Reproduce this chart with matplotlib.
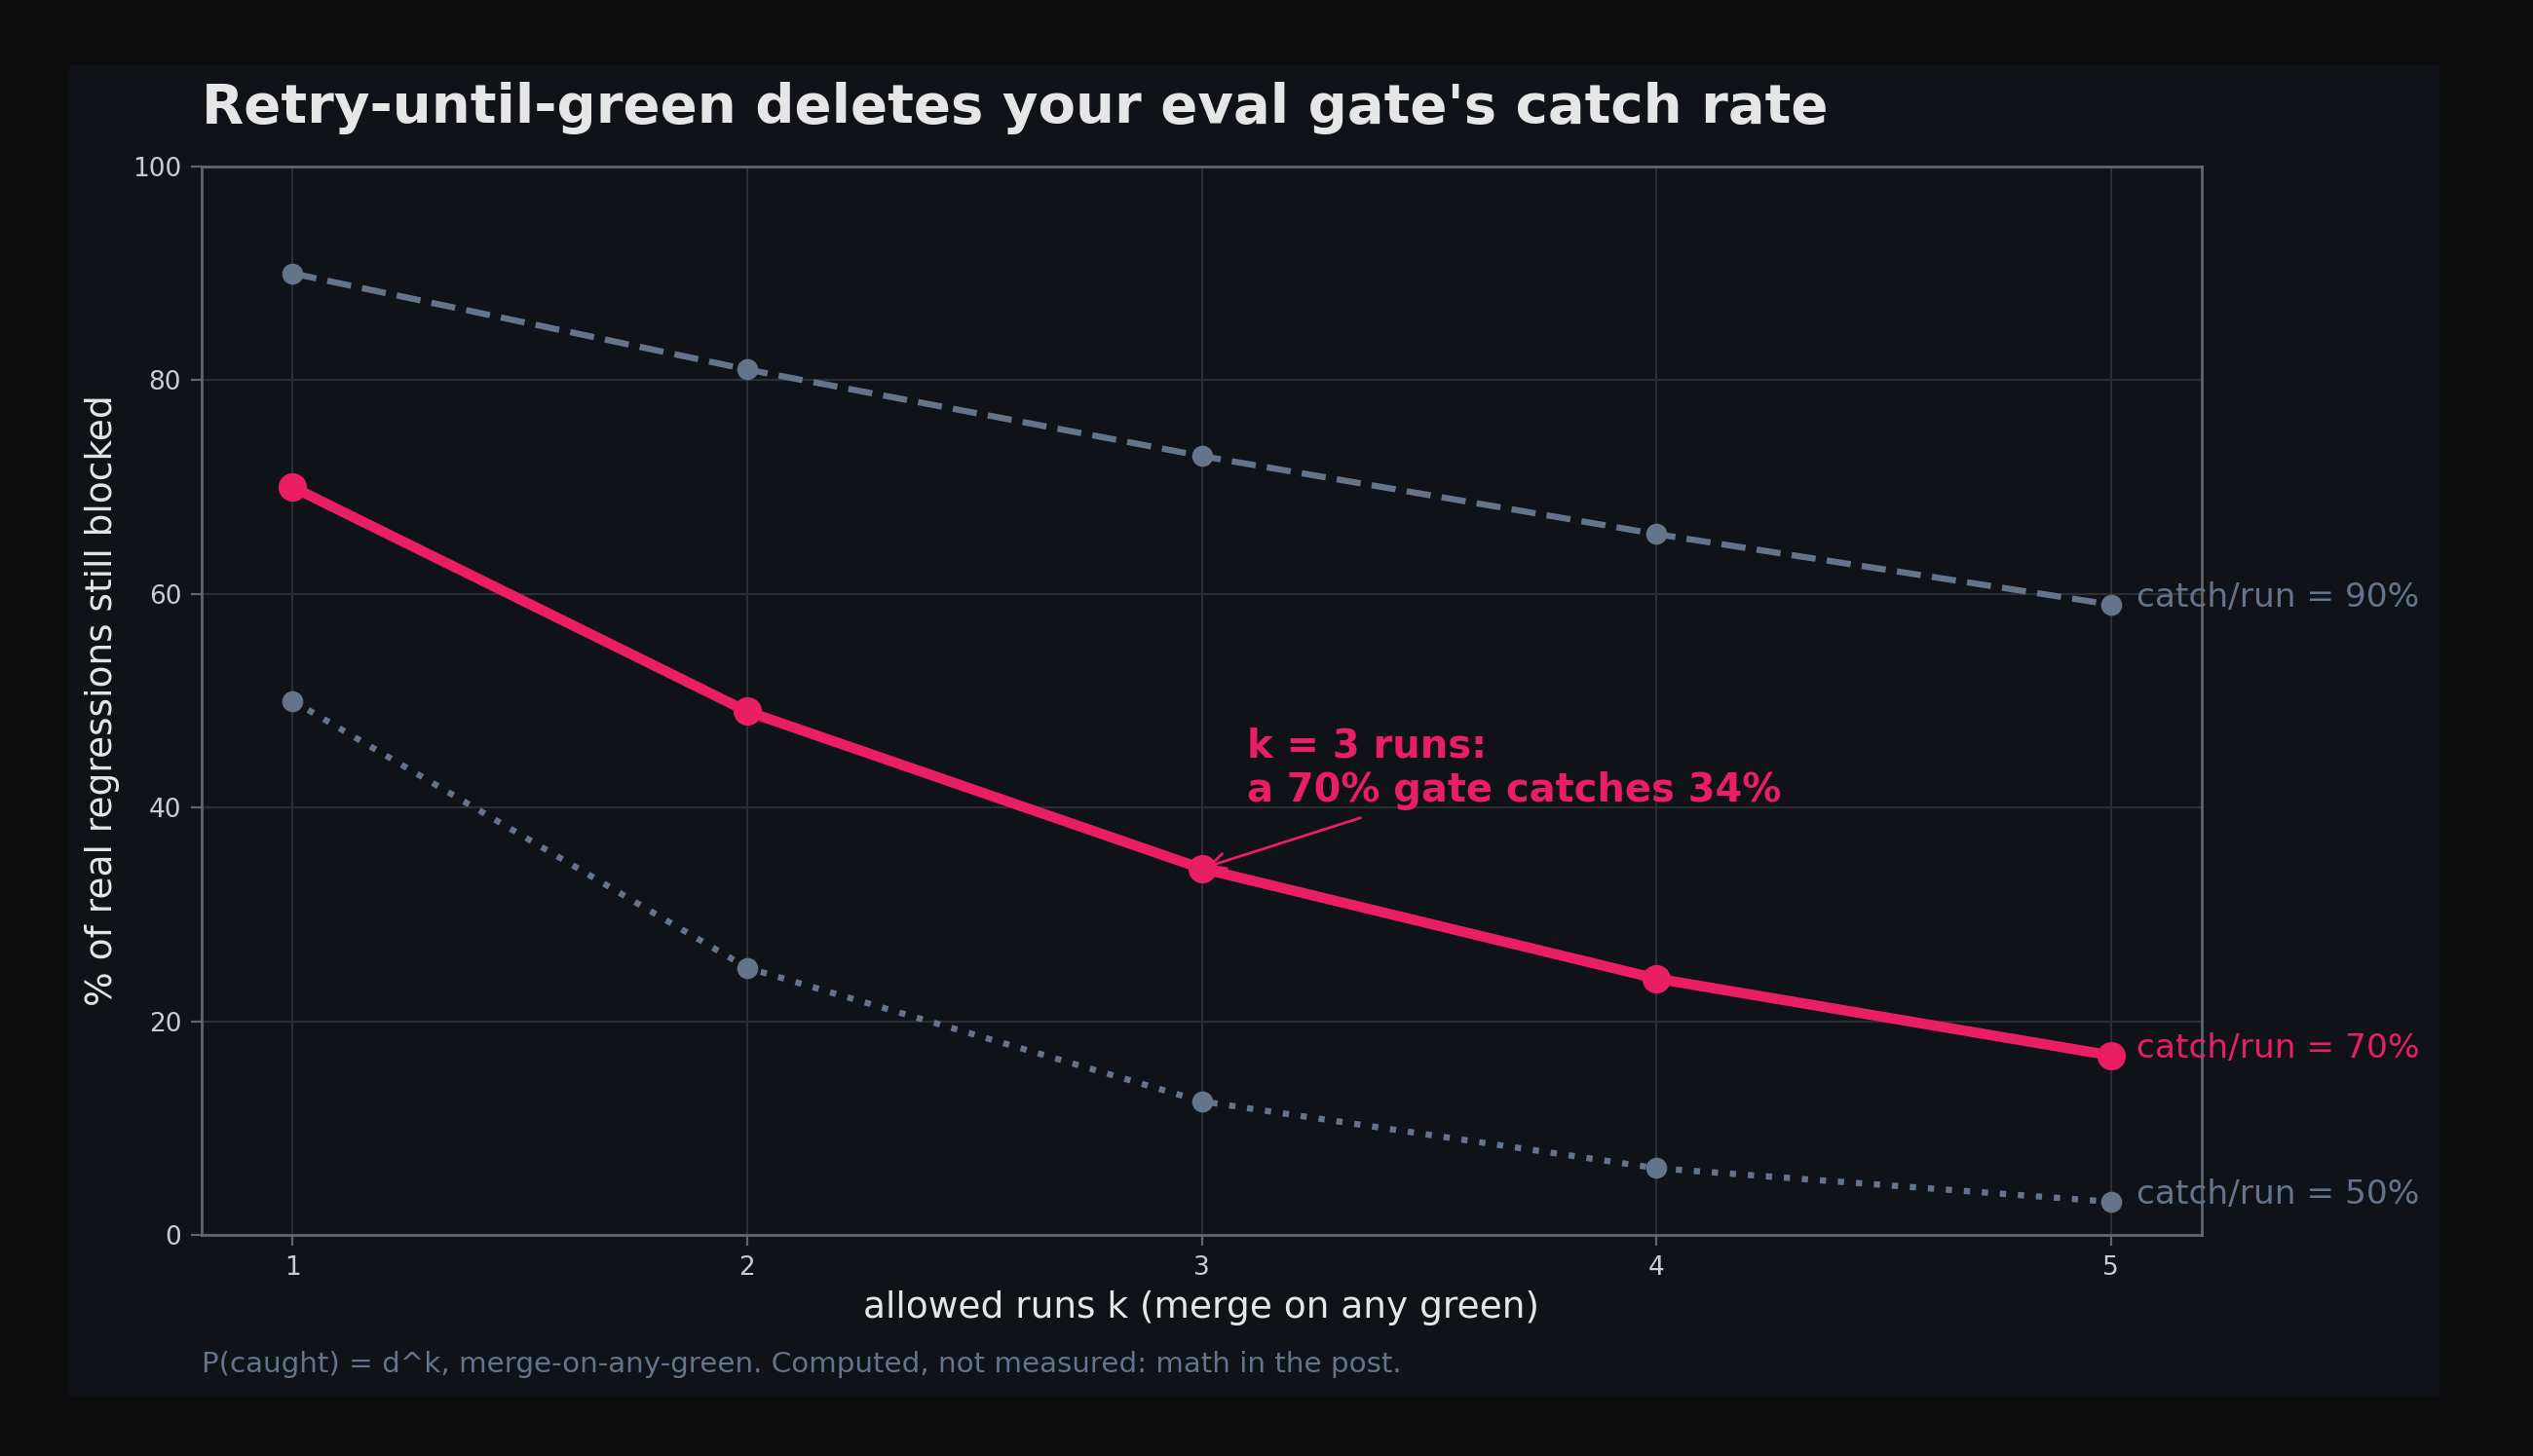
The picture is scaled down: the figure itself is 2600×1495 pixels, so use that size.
import matplotlib
matplotlib.use("Agg")
import matplotlib.pyplot as plt
from matplotlib.patches import Rectangle

# ---- data ----
k_runs = [1, 2, 3, 4, 5]
blocked_90 = [90.0, 81.0, 72.9, 65.6, 59.0]
blocked_70 = [70.0, 49.0, 34.3, 24.0, 16.8]
blocked_50 = [50.0, 25.0, 12.5, 6.25, 3.1]
series_labels = ["catch/run = 90%", "catch/run = 70%", "catch/run = 50%"]
y_ticks = [0, 20, 40, 60, 80, 100]

PINK = "#e91e63"
GRAY = "#64748b"
OUTER = "#0d0d0d"
PANEL = "#0f1217"
TEXT = "#e6e6e6"
TICK = "#c9ccd1"
GRID = "#2a2e35"
SPINE = "#5f6670"

plt.rcParams['font.family'] = ['DejaVu Sans']

fig = plt.figure(figsize=(13, 7.475), dpi=200, facecolor=OUTER)
W, H = 2600, 1495
fig.patches.append(Rectangle((71 / W, 1 - 1434 / H), (2504 - 71) / W, (1434 - 67) / H,
                             transform=fig.transFigure, facecolor=PANEL, edgecolor='none', zorder=-10))

ax = fig.add_axes([207 / W, 1 - 1268 / H, (2260 - 207) / W, (1268 - 171) / H])
ax.set_zorder(1)
ax.set_facecolor(PANEL)

ax.plot(k_runs, blocked_90, color=GRAY, lw=2.3, ls=(0, (3.9, 1.8)), marker='o', ms=6.8, zorder=3)
ax.plot(k_runs, blocked_50, color=GRAY, lw=2.3, ls=(0, (1, 1.9)), marker='o', ms=6.8, zorder=3)
ax.plot(k_runs, blocked_70, color=PINK, lw=3.8, marker='o', ms=9.5, zorder=4)

for vals, lab, col in [(blocked_90, series_labels[0], GRAY),
                       (blocked_70, series_labels[1], PINK),
                       (blocked_50, series_labels[2], GRAY)]:
    ax.annotate(lab, xy=(k_runs[-1], vals[-1]), xytext=(9.5, 2.7), textcoords='offset points',
                color=col, fontsize=12.4, va='center', ha='left', annotation_clip=False)

ax.annotate("k = 3 runs:\na 70% gate catches 34%", xy=(k_runs[2], blocked_70[2]), xytext=(3.1, 39.7),
            color=PINK, fontsize=14.4, fontweight='bold', ha='left', va='bottom',
            arrowprops=dict(arrowstyle='->', color=PINK, lw=1.0), zorder=5)

ax.set_xlim(0.8, 5.2)
ax.set_ylim(0, 100)
ax.set_xticks(k_runs)
ax.set_yticks(y_ticks)
ax.tick_params(colors=TICK, labelsize=9.5, length=4, width=0.8)
for t in ax.get_xticklabels() + ax.get_yticklabels():
    t.set_color(TICK)
ax.tick_params(axis='both', color=SPINE)
ax.grid(True, color=GRID, lw=0.8)
ax.set_axisbelow(True)
for s in ax.spines.values():
    s.set_color(SPINE)
    s.set_linewidth(1.0)

ax.set_xlabel("allowed runs k (merge on any green)", color=TEXT, fontsize=13.5, labelpad=3.5)
ax.set_ylabel("% of real regressions still blocked", color=TEXT, fontsize=13.5, labelpad=4.5)

fig.text(207 / W, 1 - 111 / H, "Retry-until-green deletes your eval gate's catch rate",
         color=TEXT, fontsize=20.2, fontweight='bold', ha='left', va='center')
fig.text(207 / W, 1 - 1401 / H,
         "P(caught) = d^k, merge-on-any-green. Computed, not measured: math in the post.",
         color=GRAY, fontsize=10.6, ha='left', va='center')

fig.savefig("out.png", dpi=200, facecolor=OUTER)
